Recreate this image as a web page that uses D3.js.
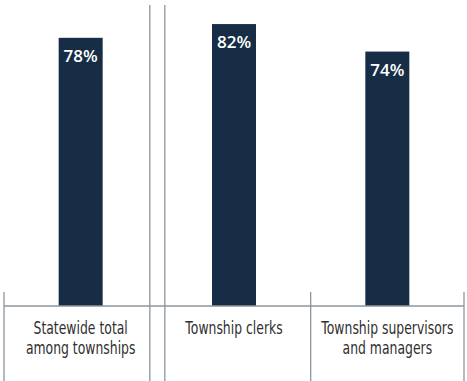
<!DOCTYPE html>
<html>
<head>
<meta charset="utf-8">
<script src="https://cdn.jsdelivr.net/npm/d3@7"></script>
<style>
	body { margin: 0; background: #fff; }
	svg { display: block; }
</style>
</head>
<body>
<script>
// values
var categories = ["statewide", "clerks", "supervisors"];
var categoryLines = [
	["Statewide total", "among townships"],
	["Township clerks"],
	["Township supervisors", "and managers"]
];
var values = [78, 82, 74];
var valueLabels = ["78%", "82%", "74%"];

var w = 467;
var h = 381;
var baseY = 306;
var barW = 44;

var svg = d3.select("body")
	.append("svg")
	.attr("width", w)
	.attr("height", h);

var x = d3.scaleBand()
	.domain(categories)
	.range([4, 464])
	.padding(0);

var y = d3.scaleLinear()
	.domain([0, 89])
	.range([baseY, 0]);

var lineColor = "#8c969e";

// bars
svg.selectAll("rect.bar")
	.data(values)
	.enter()
	.append("rect")
	.attr("class", "bar")
	.attr("x", function(d, i){ return x(categories[i]) + x.bandwidth() / 2 - barW / 2 })
	.attr("y", function(d){ return y(d) })
	.attr("width", barW)
	.attr("height", function(d){ return y(0) - y(d) })
	.attr("fill", "#162d45");

// value labels inside bars
svg.selectAll("text.val")
	.data(values)
	.enter()
	.append("text")
	.attr("class", "val")
	.attr("x", function(d, i){ return x(categories[i]) + x.bandwidth() / 2 })
	.attr("y", function(d){ return y(d) + 24 })
	.attr("text-anchor", "middle")
	.attr("fill", "#fff")
	.style("font-family", "'Open Sans', sans-serif")
	.style("font-weight", 600)
	.style("font-size", "17px")
	.text(function(d, i){ return valueLabels[i] });

// baseline
svg.append("line")
	.attr("x1", x.range()[0])
	.attr("x2", x.range()[1])
	.attr("y1", y(0))
	.attr("y2", y(0))
	.attr("stroke", lineColor)
	.attr("stroke-width", 1.3);

// vertical separators
var edges = [x.range()[0], x("clerks"), x("supervisors"), x.range()[1]];
edges.forEach(function(e, i){
	if (i == 1) {
		// double line between statewide and the township groups
		[-7.5, 7.5].forEach(function(off){
			svg.append("line")
				.attr("x1", e + off).attr("x2", e + off)
				.attr("y1", 5).attr("y2", h)
				.attr("stroke", lineColor)
				.attr("stroke-width", 1.3);
		});
	} else {
		svg.append("line")
			.attr("x1", e).attr("x2", e)
			.attr("y1", y(0) - 14).attr("y2", h)
			.attr("stroke", lineColor)
			.attr("stroke-width", 1.3);
	}
});

// category labels (no condensed font here, so squeeze the text sideways)
categories.forEach(function(c, i){
	var t = svg.append("text")
		.attr("transform", "translate(" + (x(c) + x.bandwidth() / 2) + ",334) scale(0.69,1)")
		.attr("text-anchor", "middle")
		.attr("fill", "#2f2f2f")
		.style("font-family", "'DejaVu Sans', sans-serif")
		.style("font-size", "18px");
	categoryLines[i].forEach(function(line, j){
		t.append("tspan")
			.attr("x", 0)
			.attr("dy", j == 0 ? 0 : 20)
			.text(line);
	});
});
</script>
</body>
</html>
